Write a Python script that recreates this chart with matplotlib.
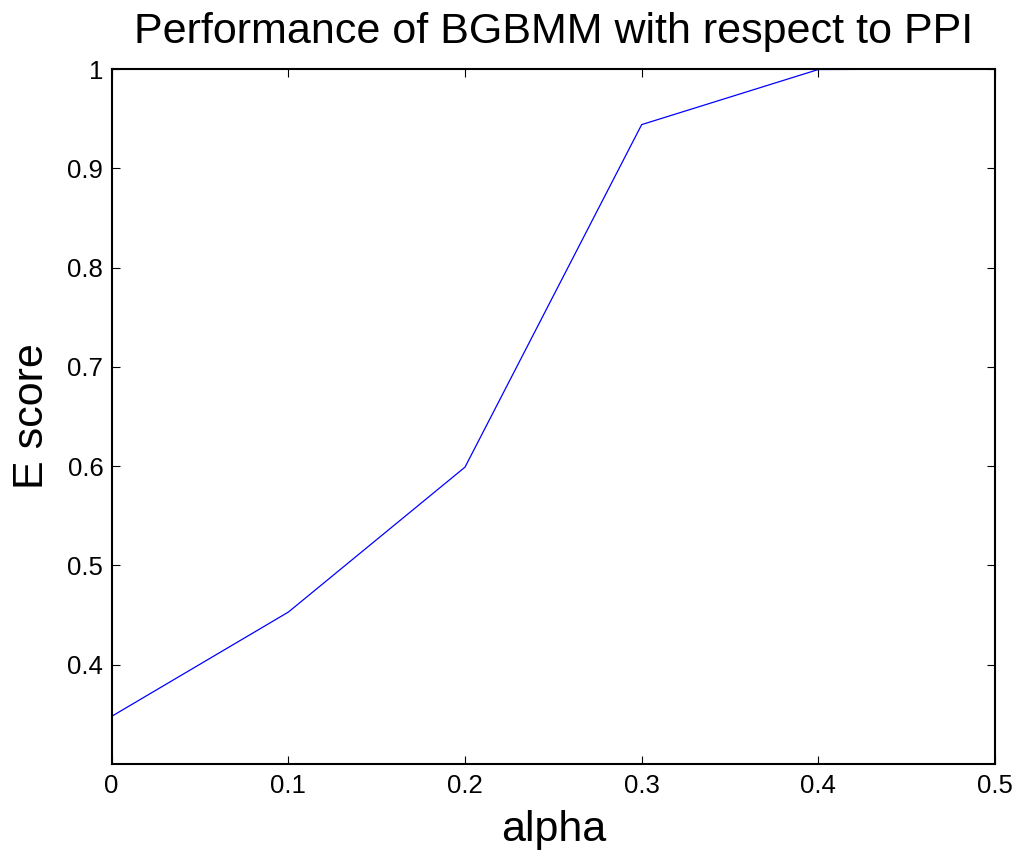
import matplotlib
matplotlib.use("Agg")
import matplotlib.pyplot as plt

alpha = [0, 0.1, 0.2, 0.3, 0.4, 0.5]
e_score = [0.348, 0.453, 0.599, 0.944, 0.9995, 1.0]
xticks = [0, 0.1, 0.2, 0.3, 0.4, 0.5]
xticklabels = ["0", "0.1", "0.2", "0.3", "0.4", "0.5"]
yticks = [0.4, 0.5, 0.6, 0.7, 0.8, 0.9, 1.0]
yticklabels = ["0.4", "0.5", "0.6", "0.7", "0.8", "0.9", "1"]

plt.rcParams['font.family'] = ['Liberation Sans', 'DejaVu Sans']

fig = plt.figure(figsize=(10.18, 8.52), dpi=100)
ax = fig.add_axes([0.1097, 0.1033, 0.8677, 0.8157])
ax.plot(alpha, e_score, color='blue', linewidth=0.9)

ax.set_xlim(0, 0.5)
ax.set_ylim(0.3, 1.0)
ax.set_xticks(xticks)
ax.set_xticklabels(xticklabels)
ax.set_yticks(yticks)
ax.set_yticklabels(yticklabels)
ax.tick_params(direction='in', top=True, right=True, length=6, width=0.8,
               labelsize=18.5)
ax.tick_params(axis='x', pad=7)
ax.tick_params(axis='y', pad=6)
for s in ax.spines.values():
    s.set_linewidth(1.5)

ax.set_xlabel("alpha", fontsize=31, labelpad=9)
ax.set_ylabel("E score", fontsize=31, labelpad=11)
ax.set_title("Performance of BGBMM with respect to PPI", fontsize=31, pad=18.7)

fig.savefig("out.png", dpi=100)
